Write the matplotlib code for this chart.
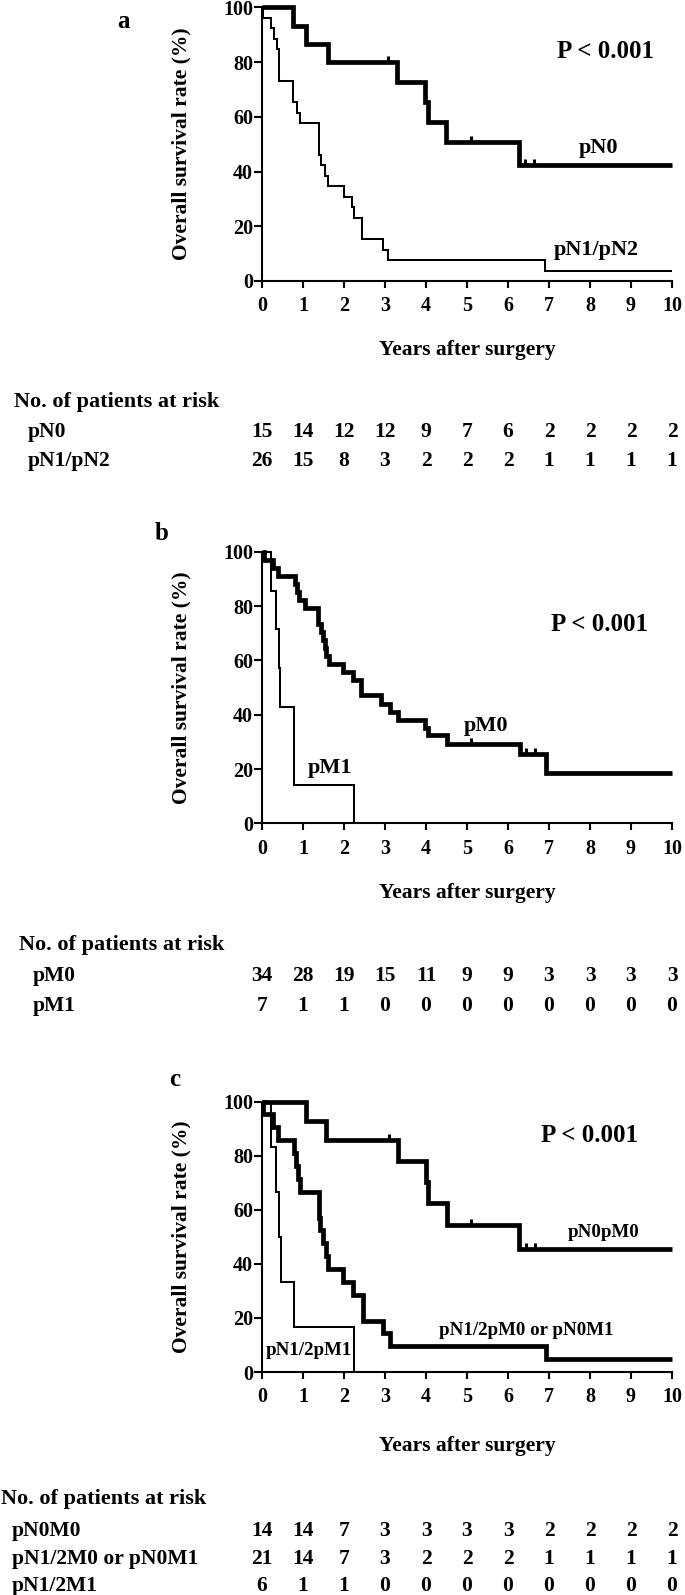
import numpy as np
import matplotlib.pyplot as plt
from matplotlib.transforms import blended_transform_factory

plt.rcParams["font.family"] = ["Liberation Serif", "DejaVu Serif"]
plt.rcParams["font.weight"] = "bold"
plt.rcParams["axes.labelweight"] = "bold"

# ---- datos ----
years = list(range(11))

# panel a
a_pn0_t = [0, 0.76, 1.07, 1.61, 3.29, 3.97, 4.04, 4.49, 6.28, 10]
a_pn0_s = [100, 93.3, 86.7, 80.0, 72.7, 65.5, 58.2, 50.9, 42.4, 42.4]
a_pn0_cens = [3.07, 5.1, 6.42, 6.63]
a_pn12_t = [0, 0.02, 0.21, 0.29, 0.37, 0.42, 0.76, 0.85, 0.92, 1.38, 1.45, 1.53,
            1.61, 1.99, 2.2, 2.25, 2.45, 2.95, 3.08, 6.91, 10]
a_pn12_s = [100, 96.2, 92.3, 88.5, 84.6, 73.1, 65.4, 61.5, 57.7, 46.2, 42.3, 38.5,
            34.6, 30.8, 26.9, 23.1, 15.4, 11.5, 7.7, 3.8, 3.8]
a_risk_labels = ["pN0", "pN1/pN2"]
a_risk = [[15, 14, 12, 12, 9, 7, 6, 2, 2, 2, 2],
          [26, 15, 8, 3, 2, 2, 2, 1, 1, 1, 1]]

# panel b
b_pm0_t = [0, 0.05, 0.27, 0.39, 0.81, 0.86, 0.9, 1.04, 1.37, 1.45, 1.49, 1.53,
           1.57, 1.63, 1.98, 2.22, 2.42, 2.91, 3.11, 3.32, 3.98, 4.06, 4.5, 6.29,
           6.93, 10]
b_pm0_s = [100, 97.1, 94.1, 91.2, 88.2, 85.3, 82.4, 79.4, 73.5, 70.6, 67.6, 64.7,
           61.8, 58.8, 55.9, 52.9, 47.1, 44.1, 41.2, 38.2, 35.3, 32.4, 29.4, 25.6,
           18.7, 18.7]
b_pm0_cens = [5.1, 6.45, 6.65]
b_pm1_t = [0, 0.23, 0.35, 0.41, 0.45, 0.78, 2.24]
b_pm1_s = [100, 85.7, 71.4, 57.1, 42.9, 14.3, 0]
b_risk_labels = ["pM0", "pM1"]
b_risk = [[34, 28, 19, 15, 11, 9, 9, 3, 3, 3, 3],
          [7, 1, 1, 0, 0, 0, 0, 0, 0, 0, 0]]

# panel c
c_n0m0_t = [0, 1.08, 1.57, 3.32, 4.0, 4.05, 4.5, 6.28, 10]
c_n0m0_s = [100, 92.9, 85.7, 77.9, 70.1, 62.3, 54.5, 45.4, 45.4]
c_n0m0_cens = [3.1, 5.1, 6.45, 6.65]
c_mid_t = [0, 0.03, 0.27, 0.39, 0.78, 0.84, 0.88, 0.92, 1.38, 1.42, 1.48, 1.55,
           1.62, 1.98, 2.22, 2.46, 2.95, 3.11, 6.93, 10]
c_mid_s = [100, 95.2, 90.5, 85.7, 81.0, 76.2, 71.4, 66.7, 57.1, 52.4, 47.6, 42.9,
           38.1, 33.3, 28.6, 19.0, 14.3, 9.5, 4.8, 4.8]
c_m1_t = [0, 0.23, 0.35, 0.42, 0.46, 0.78, 2.24]
c_m1_s = [100, 83.3, 66.7, 50.0, 33.3, 16.7, 0]
c_risk_labels = ["pN0M0", "pN1/2M0 or pN0M1", "pN1/2M1"]
c_risk = [[14, 14, 7, 3, 3, 3, 3, 2, 2, 2, 2],
          [21, 14, 7, 3, 2, 2, 2, 1, 1, 1, 1],
          [6, 1, 1, 0, 0, 0, 0, 0, 0, 0, 0]]

W, H = 685, 1595
THICK = 3.4
THIN = 1.45

fig = plt.figure(figsize=(W / 100, H / 100), dpi=100)


def fy(y):
    return 1 - y / H


def km(ax, t, s, lw, cens=None):
    ax.step(t, s, where="post", color="black", lw=lw, clip_on=False,
            solid_joinstyle="miter", solid_capstyle="butt")
    if cens:
        t_arr = np.array(t)
        vals = [s[np.searchsorted(t_arr, c, side="right") - 1] for c in cens]
        # marcas de censura: pequeño trazo hacia arriba
        ax.plot(cens, vals, ls="none", marker=2, ms=4.2, mew=2.2,
                color="black", clip_on=False)


def make_axes(top, bottom, xlabel_off):
    ax = fig.add_axes([262 / W, fy(bottom), 410 / W, (bottom - top) / H])
    ax.set_xlim(0, 10)
    ax.set_ylim(0, 100)
    ax.set_xticks(years)
    ax.set_yticks([0, 20, 40, 60, 80, 100])
    ax.spines["top"].set_visible(False)
    ax.spines["right"].set_visible(False)
    ax.spines["left"].set_linewidth(1.5)
    ax.spines["bottom"].set_linewidth(1.5)
    ax.tick_params(axis="x", direction="out", length=5, width=1.5,
                   labelsize=14.5, pad=6)
    ax.tick_params(axis="y", direction="out", length=5.5, width=1.5,
                   labelsize=14.5, pad=1)
    ax.set_ylabel("Overall survival rate (%)", fontsize=15.5,
                  fontweight="bold", va="center")
    ax.yaxis.set_label_coords(-81 / 410, 0.5)
    ax.set_xlabel("Years after surgery", fontsize=15.5,
                  fontweight="bold", va="center")
    ax.xaxis.set_label_coords(0.5, -xlabel_off / (bottom - top))
    return ax


def risk_table(ax, head_y, head_x, row_x, row_ys, labels, rows):
    fig.text(head_x / W, fy(head_y), "No. of patients at risk",
             fontsize=16, va="center", ha="left")
    trans = blended_transform_factory(ax.transData, fig.transFigure)
    for lab, vals, ry in zip(labels, rows, row_ys):
        fig.text(row_x / W, fy(ry), lab, fontsize=15.5, va="center", ha="left")
        for yr, v in zip(years, vals):
            ax.text(yr, fy(ry), str(v), transform=trans, fontsize=15.5,
                    va="center", ha="center")


# ---- panel a ----
ax_a = make_axes(7.3, 281, 69)
km(ax_a, a_pn0_t, a_pn0_s, THICK, a_pn0_cens)
km(ax_a, a_pn12_t, a_pn12_s, THIN)
ax_a.text(8.39, 83.9, "P < 0.001", fontsize=18, ha="center", va="center")
ax_a.text(8.2, 48.7, "pN0", fontsize=16, ha="center", va="center")
ax_a.text(8.15, 11.4, "pN1/pN2", fontsize=16, ha="center", va="center")
fig.text(123 / W, fy(21), "a", fontsize=18, ha="center", va="center")
risk_table(ax_a, 402, 14, 28, [432, 461], a_risk_labels, a_risk)

# ---- panel b ----
ax_b = make_axes(551.7, 823.5, 69.5)
km(ax_b, b_pm0_t, b_pm0_s, THICK, b_pm0_cens)
km(ax_b, b_pm1_t, b_pm1_s, THIN)
ax_b.text(8.24, 73.2, "P < 0.001", fontsize=18, ha="center", va="center")
ax_b.text(5.46, 35.7, "pM0", fontsize=16, ha="center", va="center")
ax_b.text(1.66, 20.6, "pM1", fontsize=16, ha="center", va="center")
fig.text(162 / W, fy(533), "b", fontsize=18, ha="center", va="center")
risk_table(ax_b, 945, 19, 33, [976, 1006], b_risk_labels, b_risk)

# ---- panel c ----
ax_c = make_axes(1101.5, 1372, 74)
km(ax_c, c_n0m0_t, c_n0m0_s, THICK, c_n0m0_cens)
km(ax_c, c_mid_t, c_mid_s, THICK)
km(ax_c, c_m1_t, c_m1_s, THIN)
ax_c.text(7.98, 87.5, "P < 0.001", fontsize=18, ha="center", va="center")
ax_c.text(8.32, 51.5, "pN0pM0", fontsize=13.6, ha="center", va="center")
ax_c.text(6.44, 15.4, "pN1/2pM0 or pN0M1", fontsize=13.6, ha="center", va="center")
ax_c.text(1.15, 8.1, "pN1/2pM1", fontsize=13.6, ha="center", va="center")
fig.text(175 / W, fy(1080), "c", fontsize=18, ha="center", va="center")
risk_table(ax_c, 1499, 1, 12, [1531, 1559, 1586], c_risk_labels, c_risk)

fig.savefig("out.png", dpi=100)
